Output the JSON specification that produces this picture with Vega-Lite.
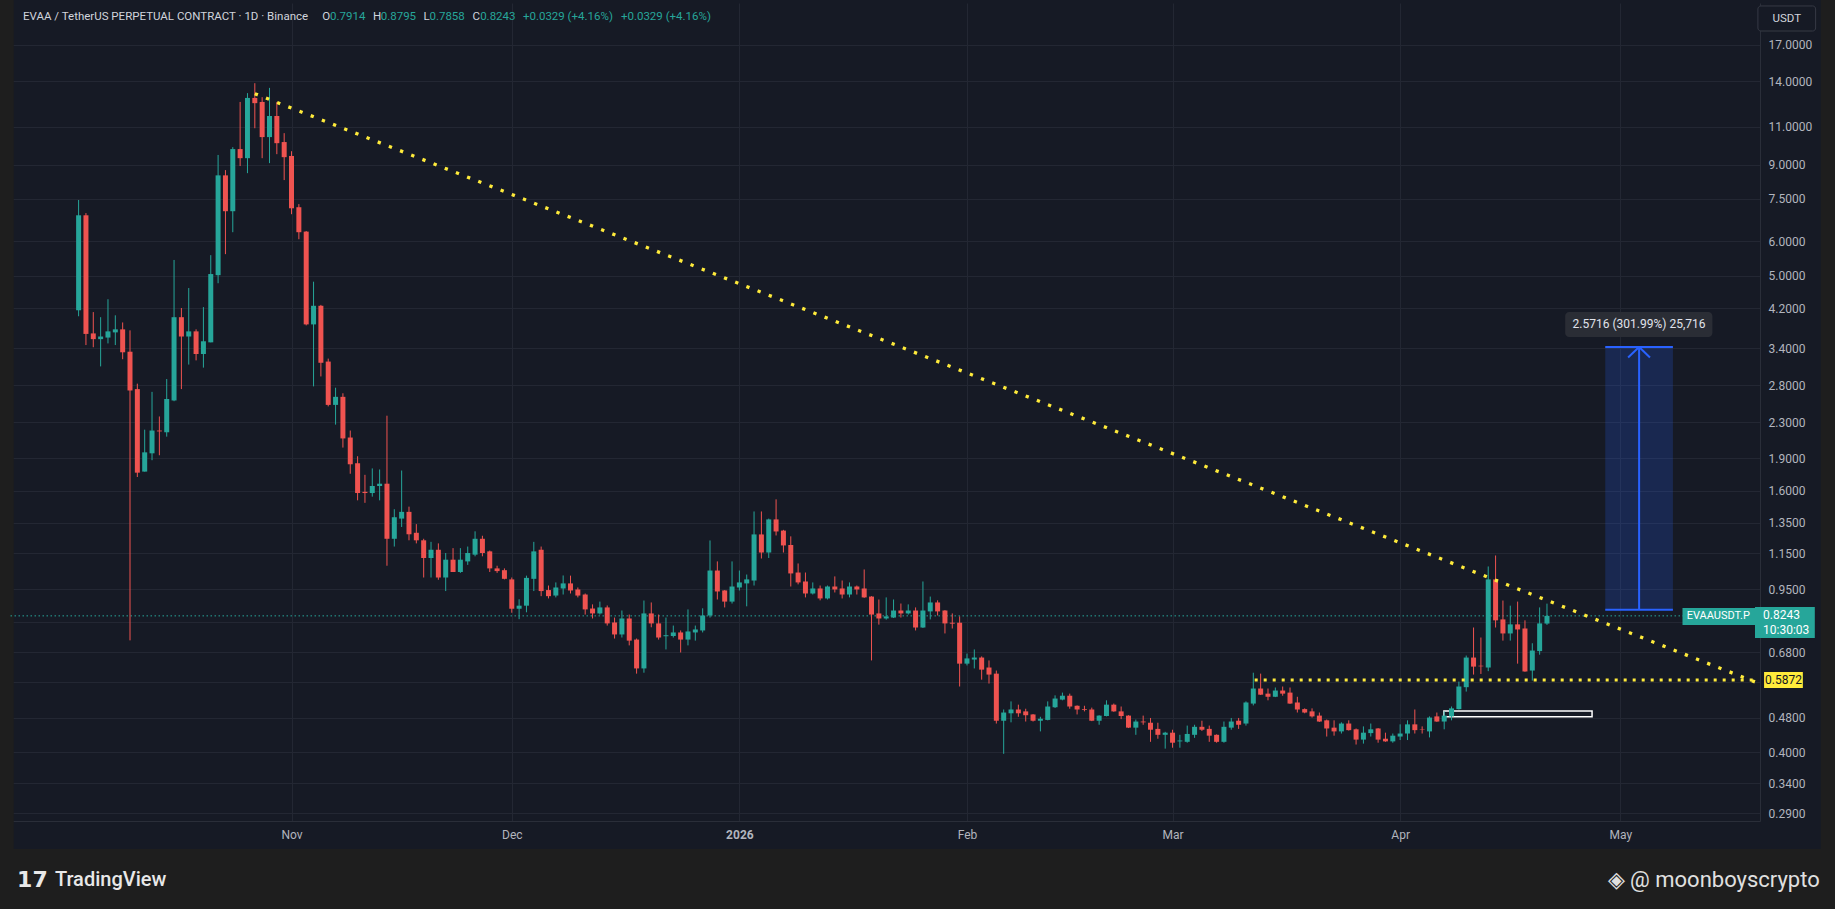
{
  "$schema": "https://vega.github.io/schema/vega-lite/v6.json",
  "width": 1751,
  "height": 818,
  "autosize": {"type": "none"},
  "padding": {"left": 9, "top": 3, "right": 75, "bottom": 88},
  "background": "#161a25",
  "config": {
    "view": {"stroke": null, "fill": "#161a25"},
    "font": "Roboto",
    "axis": {
      "labelColor": "#b2b5be",
      "labelFont": "Roboto",
      "labelFontSize": 12,
      "gridColor": "#232733",
      "gridWidth": 1,
      "domainColor": "#2a2e39",
      "ticks": false,
      "tickSize": 0,
      "title": null
    },
    "text": {"font": "Roboto"}
  },
  "datasets": {
    "candles": [
      {"d": "2025-10-03", "o": 4.16, "h": 7.46, "l": 4.03, "c": 6.88},
      {"d": "2025-10-04", "o": 6.88, "h": 6.96, "l": 3.46, "c": 3.67},
      {"d": "2025-10-05", "o": 3.68, "h": 4.12, "l": 3.42, "c": 3.57},
      {"d": "2025-10-06", "o": 3.57, "h": 4.01, "l": 3.09, "c": 3.62},
      {"d": "2025-10-07", "o": 3.60, "h": 4.41, "l": 3.49, "c": 3.72},
      {"d": "2025-10-08", "o": 3.70, "h": 4.05, "l": 3.46, "c": 3.76},
      {"d": "2025-10-09", "o": 3.76, "h": 3.90, "l": 3.21, "c": 3.33},
      {"d": "2025-10-10", "o": 3.34, "h": 3.74, "l": 0.724, "c": 2.72},
      {"d": "2025-10-11", "o": 2.74, "h": 2.82, "l": 1.72, "c": 1.76},
      {"d": "2025-10-12", "o": 1.77, "h": 2.21, "l": 1.77, "c": 1.96},
      {"d": "2025-10-13", "o": 1.95, "h": 2.70, "l": 1.88, "c": 2.20},
      {"d": "2025-10-14", "o": 2.20, "h": 2.37, "l": 1.93, "c": 2.19},
      {"d": "2025-10-15", "o": 2.18, "h": 2.89, "l": 2.13, "c": 2.60},
      {"d": "2025-10-16", "o": 2.58, "h": 5.43, "l": 2.57, "c": 4.01},
      {"d": "2025-10-17", "o": 4.01, "h": 4.21, "l": 2.74, "c": 3.62},
      {"d": "2025-10-18", "o": 3.62, "h": 4.68, "l": 3.12, "c": 3.72},
      {"d": "2025-10-19", "o": 3.72, "h": 3.76, "l": 3.19, "c": 3.30},
      {"d": "2025-10-20", "o": 3.30, "h": 4.23, "l": 3.07, "c": 3.53},
      {"d": "2025-10-21", "o": 3.51, "h": 5.57, "l": 3.51, "c": 5.04},
      {"d": "2025-10-22", "o": 5.01, "h": 9.47, "l": 4.80, "c": 8.50},
      {"d": "2025-10-23", "o": 8.50, "h": 8.74, "l": 5.60, "c": 7.03},
      {"d": "2025-10-24", "o": 7.03, "h": 9.87, "l": 6.29, "c": 9.77},
      {"d": "2025-10-25", "o": 9.77, "h": 12.54, "l": 8.93, "c": 9.31},
      {"d": "2025-10-26", "o": 9.31, "h": 13.14, "l": 8.60, "c": 12.81},
      {"d": "2025-10-27", "o": 12.81, "h": 13.85, "l": 10.91, "c": 12.46},
      {"d": "2025-10-28", "o": 12.54, "h": 12.86, "l": 9.31, "c": 10.41},
      {"d": "2025-10-29", "o": 10.41, "h": 13.51, "l": 9.07, "c": 11.64},
      {"d": "2025-10-30", "o": 11.64, "h": 12.54, "l": 9.51, "c": 10.08},
      {"d": "2025-10-31", "o": 10.14, "h": 10.63, "l": 8.29, "c": 9.36},
      {"d": "2025-11-01", "o": 9.42, "h": 9.66, "l": 6.92, "c": 7.14},
      {"d": "2025-11-02", "o": 7.18, "h": 7.30, "l": 6.06, "c": 6.29},
      {"d": "2025-11-03", "o": 6.31, "h": 6.33, "l": 3.84, "c": 3.86},
      {"d": "2025-11-04", "o": 3.86, "h": 4.84, "l": 2.78, "c": 4.26},
      {"d": "2025-11-05", "o": 4.26, "h": 4.28, "l": 2.93, "c": 3.15},
      {"d": "2025-11-06", "o": 3.17, "h": 3.22, "l": 2.50, "c": 2.52},
      {"d": "2025-11-07", "o": 2.52, "h": 2.76, "l": 2.27, "c": 2.63},
      {"d": "2025-11-08", "o": 2.63, "h": 2.68, "l": 2.01, "c": 2.11},
      {"d": "2025-11-09", "o": 2.12, "h": 2.20, "l": 1.75, "c": 1.84},
      {"d": "2025-11-10", "o": 1.85, "h": 1.92, "l": 1.52, "c": 1.58},
      {"d": "2025-11-11", "o": 1.59, "h": 1.74, "l": 1.50, "c": 1.58},
      {"d": "2025-11-12", "o": 1.58, "h": 1.80, "l": 1.55, "c": 1.64},
      {"d": "2025-11-13", "o": 1.64, "h": 1.79, "l": 1.52, "c": 1.66},
      {"d": "2025-11-14", "o": 1.66, "h": 2.38, "l": 1.075, "c": 1.24},
      {"d": "2025-11-15", "o": 1.24, "h": 1.45, "l": 1.19, "c": 1.39},
      {"d": "2025-11-16", "o": 1.38, "h": 1.78, "l": 1.32, "c": 1.43},
      {"d": "2025-11-17", "o": 1.43, "h": 1.47, "l": 1.23, "c": 1.27},
      {"d": "2025-11-18", "o": 1.28, "h": 1.34, "l": 1.21, "c": 1.23},
      {"d": "2025-11-19", "o": 1.23, "h": 1.24, "l": 1.01, "c": 1.12},
      {"d": "2025-11-20", "o": 1.12, "h": 1.22, "l": 1.01, "c": 1.17},
      {"d": "2025-11-21", "o": 1.17, "h": 1.21, "l": 0.998, "c": 1.01},
      {"d": "2025-11-22", "o": 1.01, "h": 1.15, "l": 0.94, "c": 1.11},
      {"d": "2025-11-23", "o": 1.11, "h": 1.18, "l": 1.04, "c": 1.04},
      {"d": "2025-11-24", "o": 1.04, "h": 1.18, "l": 1.035, "c": 1.11},
      {"d": "2025-11-25", "o": 1.10, "h": 1.19, "l": 1.08, "c": 1.15},
      {"d": "2025-11-26", "o": 1.14, "h": 1.29, "l": 1.13, "c": 1.24},
      {"d": "2025-11-27", "o": 1.24, "h": 1.26, "l": 1.13, "c": 1.15},
      {"d": "2025-11-28", "o": 1.16, "h": 1.165, "l": 1.04, "c": 1.06},
      {"d": "2025-11-29", "o": 1.06, "h": 1.075, "l": 1.035, "c": 1.045},
      {"d": "2025-11-30", "o": 1.05, "h": 1.06, "l": 1.0, "c": 1.003},
      {"d": "2025-12-01", "o": 1.0, "h": 1.01, "l": 0.838, "c": 0.856},
      {"d": "2025-12-02", "o": 0.856, "h": 0.90, "l": 0.81, "c": 0.87},
      {"d": "2025-12-03", "o": 0.87, "h": 1.02, "l": 0.84, "c": 1.008},
      {"d": "2025-12-04", "o": 1.003, "h": 1.22, "l": 0.94, "c": 1.16},
      {"d": "2025-12-05", "o": 1.17, "h": 1.19, "l": 0.915, "c": 0.94},
      {"d": "2025-12-06", "o": 0.945, "h": 0.968, "l": 0.904, "c": 0.915},
      {"d": "2025-12-07", "o": 0.918, "h": 0.984, "l": 0.909, "c": 0.958},
      {"d": "2025-12-08", "o": 0.953, "h": 1.021, "l": 0.923, "c": 0.979},
      {"d": "2025-12-09", "o": 0.979, "h": 1.02, "l": 0.928, "c": 0.943},
      {"d": "2025-12-10", "o": 0.948, "h": 0.958, "l": 0.909, "c": 0.918},
      {"d": "2025-12-11", "o": 0.923, "h": 0.928, "l": 0.830, "c": 0.853},
      {"d": "2025-12-12", "o": 0.857, "h": 0.876, "l": 0.813, "c": 0.835},
      {"d": "2025-12-13", "o": 0.835, "h": 0.889, "l": 0.830, "c": 0.862},
      {"d": "2025-12-14", "o": 0.862, "h": 0.871, "l": 0.783, "c": 0.792},
      {"d": "2025-12-15", "o": 0.796, "h": 0.817, "l": 0.731, "c": 0.747},
      {"d": "2025-12-16", "o": 0.747, "h": 0.848, "l": 0.735, "c": 0.813},
      {"d": "2025-12-17", "o": 0.813, "h": 0.830, "l": 0.705, "c": 0.723},
      {"d": "2025-12-18", "o": 0.727, "h": 0.731, "l": 0.607, "c": 0.624},
      {"d": "2025-12-19", "o": 0.624, "h": 0.894, "l": 0.610, "c": 0.835},
      {"d": "2025-12-20", "o": 0.835, "h": 0.885, "l": 0.776, "c": 0.792},
      {"d": "2025-12-21", "o": 0.792, "h": 0.830, "l": 0.727, "c": 0.735},
      {"d": "2025-12-22", "o": 0.740, "h": 0.817, "l": 0.690, "c": 0.744},
      {"d": "2025-12-23", "o": 0.741, "h": 0.783, "l": 0.735, "c": 0.755},
      {"d": "2025-12-24", "o": 0.755, "h": 0.763, "l": 0.679, "c": 0.727},
      {"d": "2025-12-25", "o": 0.727, "h": 0.853, "l": 0.705, "c": 0.759},
      {"d": "2025-12-26", "o": 0.755, "h": 0.783, "l": 0.723, "c": 0.767},
      {"d": "2025-12-27", "o": 0.763, "h": 0.858, "l": 0.755, "c": 0.826},
      {"d": "2025-12-28", "o": 0.826, "h": 1.229, "l": 0.817, "c": 1.048},
      {"d": "2025-12-29", "o": 1.048, "h": 1.10, "l": 0.899, "c": 0.938},
      {"d": "2025-12-30", "o": 0.943, "h": 0.945, "l": 0.862, "c": 0.889},
      {"d": "2025-12-31", "o": 0.889, "h": 1.10, "l": 0.880, "c": 0.963},
      {"d": "2026-01-01", "o": 0.958, "h": 1.048, "l": 0.943, "c": 0.984},
      {"d": "2026-01-02", "o": 0.979, "h": 1.026, "l": 0.867, "c": 1.0},
      {"d": "2026-01-03", "o": 0.994, "h": 1.433, "l": 0.968, "c": 1.269},
      {"d": "2026-01-04", "o": 1.269, "h": 1.433, "l": 1.117, "c": 1.153},
      {"d": "2026-01-05", "o": 1.153, "h": 1.38, "l": 1.12, "c": 1.374},
      {"d": "2026-01-06", "o": 1.374, "h": 1.528, "l": 1.262, "c": 1.289},
      {"d": "2026-01-07", "o": 1.295, "h": 1.30, "l": 1.153, "c": 1.197},
      {"d": "2026-01-08", "o": 1.20, "h": 1.256, "l": 0.963, "c": 1.032},
      {"d": "2026-01-09", "o": 1.037, "h": 1.088, "l": 0.974, "c": 0.984},
      {"d": "2026-01-10", "o": 0.989, "h": 1.037, "l": 0.909, "c": 0.928},
      {"d": "2026-01-11", "o": 0.928, "h": 0.984, "l": 0.923, "c": 0.953},
      {"d": "2026-01-12", "o": 0.953, "h": 0.968, "l": 0.895, "c": 0.904},
      {"d": "2026-01-13", "o": 0.904, "h": 0.968, "l": 0.899, "c": 0.963},
      {"d": "2026-01-14", "o": 0.963, "h": 1.016, "l": 0.933, "c": 0.948},
      {"d": "2026-01-15", "o": 0.953, "h": 0.994, "l": 0.904, "c": 0.923},
      {"d": "2026-01-16", "o": 0.923, "h": 0.984, "l": 0.909, "c": 0.963},
      {"d": "2026-01-17", "o": 0.963, "h": 0.968, "l": 0.923, "c": 0.948},
      {"d": "2026-01-18", "o": 0.953, "h": 1.054, "l": 0.907, "c": 0.909},
      {"d": "2026-01-19", "o": 0.913, "h": 0.915, "l": 0.651, "c": 0.830},
      {"d": "2026-01-20", "o": 0.835, "h": 0.899, "l": 0.787, "c": 0.813},
      {"d": "2026-01-21", "o": 0.813, "h": 0.909, "l": 0.808, "c": 0.822},
      {"d": "2026-01-22", "o": 0.817, "h": 0.899, "l": 0.815, "c": 0.848},
      {"d": "2026-01-23", "o": 0.848, "h": 0.880, "l": 0.817, "c": 0.835},
      {"d": "2026-01-24", "o": 0.835, "h": 0.876, "l": 0.830, "c": 0.848},
      {"d": "2026-01-25", "o": 0.848, "h": 0.862, "l": 0.763, "c": 0.775},
      {"d": "2026-01-26", "o": 0.775, "h": 0.989, "l": 0.773, "c": 0.848},
      {"d": "2026-01-27", "o": 0.844, "h": 0.913, "l": 0.809, "c": 0.885},
      {"d": "2026-01-28", "o": 0.885, "h": 0.895, "l": 0.826, "c": 0.844},
      {"d": "2026-01-29", "o": 0.848, "h": 0.850, "l": 0.751, "c": 0.792},
      {"d": "2026-01-30", "o": 0.795, "h": 0.835, "l": 0.771, "c": 0.791},
      {"d": "2026-01-31", "o": 0.795, "h": 0.822, "l": 0.567, "c": 0.640},
      {"d": "2026-02-01", "o": 0.640, "h": 0.675, "l": 0.634, "c": 0.658},
      {"d": "2026-02-02", "o": 0.654, "h": 0.690, "l": 0.624, "c": 0.661},
      {"d": "2026-02-03", "o": 0.661, "h": 0.665, "l": 0.588, "c": 0.620},
      {"d": "2026-02-04", "o": 0.627, "h": 0.651, "l": 0.576, "c": 0.604},
      {"d": "2026-02-05", "o": 0.607, "h": 0.617, "l": 0.466, "c": 0.473},
      {"d": "2026-02-06", "o": 0.473, "h": 0.502, "l": 0.397, "c": 0.494},
      {"d": "2026-02-07", "o": 0.492, "h": 0.524, "l": 0.469, "c": 0.502},
      {"d": "2026-02-08", "o": 0.502, "h": 0.515, "l": 0.483, "c": 0.492},
      {"d": "2026-02-09", "o": 0.497, "h": 0.504, "l": 0.471, "c": 0.487},
      {"d": "2026-02-10", "o": 0.489, "h": 0.490, "l": 0.471, "c": 0.473},
      {"d": "2026-02-11", "o": 0.473, "h": 0.483, "l": 0.447, "c": 0.478},
      {"d": "2026-02-12", "o": 0.475, "h": 0.524, "l": 0.474, "c": 0.510},
      {"d": "2026-02-13", "o": 0.508, "h": 0.541, "l": 0.506, "c": 0.532},
      {"d": "2026-02-14", "o": 0.529, "h": 0.549, "l": 0.527, "c": 0.540},
      {"d": "2026-02-15", "o": 0.540, "h": 0.546, "l": 0.504, "c": 0.510},
      {"d": "2026-02-16", "o": 0.512, "h": 0.513, "l": 0.489, "c": 0.502},
      {"d": "2026-02-17", "o": 0.503, "h": 0.512, "l": 0.497, "c": 0.501},
      {"d": "2026-02-18", "o": 0.502, "h": 0.507, "l": 0.472, "c": 0.473},
      {"d": "2026-02-19", "o": 0.473, "h": 0.487, "l": 0.463, "c": 0.486},
      {"d": "2026-02-20", "o": 0.485, "h": 0.527, "l": 0.484, "c": 0.515},
      {"d": "2026-02-21", "o": 0.515, "h": 0.518, "l": 0.496, "c": 0.497},
      {"d": "2026-02-22", "o": 0.497, "h": 0.510, "l": 0.477, "c": 0.485},
      {"d": "2026-02-23", "o": 0.486, "h": 0.487, "l": 0.455, "c": 0.456},
      {"d": "2026-02-24", "o": 0.456, "h": 0.476, "l": 0.439, "c": 0.471},
      {"d": "2026-02-25", "o": 0.471, "h": 0.486, "l": 0.463, "c": 0.469},
      {"d": "2026-02-26", "o": 0.468, "h": 0.480, "l": 0.423, "c": 0.451},
      {"d": "2026-02-27", "o": 0.453, "h": 0.468, "l": 0.430, "c": 0.439},
      {"d": "2026-02-28", "o": 0.439, "h": 0.446, "l": 0.408, "c": 0.444},
      {"d": "2026-03-01", "o": 0.444, "h": 0.451, "l": 0.410, "c": 0.421},
      {"d": "2026-03-02", "o": 0.424, "h": 0.439, "l": 0.410, "c": 0.426},
      {"d": "2026-03-03", "o": 0.423, "h": 0.461, "l": 0.421, "c": 0.441},
      {"d": "2026-03-04", "o": 0.439, "h": 0.463, "l": 0.432, "c": 0.458},
      {"d": "2026-03-05", "o": 0.458, "h": 0.473, "l": 0.448, "c": 0.451},
      {"d": "2026-03-06", "o": 0.453, "h": 0.461, "l": 0.423, "c": 0.437},
      {"d": "2026-03-07", "o": 0.439, "h": 0.440, "l": 0.421, "c": 0.423},
      {"d": "2026-03-08", "o": 0.423, "h": 0.471, "l": 0.421, "c": 0.458},
      {"d": "2026-03-09", "o": 0.456, "h": 0.480, "l": 0.451, "c": 0.471},
      {"d": "2026-03-10", "o": 0.473, "h": 0.480, "l": 0.453, "c": 0.463},
      {"d": "2026-03-11", "o": 0.466, "h": 0.524, "l": 0.461, "c": 0.521},
      {"d": "2026-03-12", "o": 0.518, "h": 0.610, "l": 0.513, "c": 0.561},
      {"d": "2026-03-13", "o": 0.561, "h": 0.607, "l": 0.542, "c": 0.543},
      {"d": "2026-03-14", "o": 0.546, "h": 0.561, "l": 0.527, "c": 0.537},
      {"d": "2026-03-15", "o": 0.537, "h": 0.564, "l": 0.536, "c": 0.555},
      {"d": "2026-03-16", "o": 0.555, "h": 0.567, "l": 0.540, "c": 0.546},
      {"d": "2026-03-17", "o": 0.549, "h": 0.564, "l": 0.517, "c": 0.518},
      {"d": "2026-03-18", "o": 0.521, "h": 0.537, "l": 0.494, "c": 0.502},
      {"d": "2026-03-19", "o": 0.503, "h": 0.505, "l": 0.492, "c": 0.494},
      {"d": "2026-03-20", "o": 0.497, "h": 0.505, "l": 0.481, "c": 0.484},
      {"d": "2026-03-21", "o": 0.486, "h": 0.494, "l": 0.470, "c": 0.471},
      {"d": "2026-03-22", "o": 0.474, "h": 0.476, "l": 0.435, "c": 0.454},
      {"d": "2026-03-23", "o": 0.456, "h": 0.474, "l": 0.437, "c": 0.447},
      {"d": "2026-03-24", "o": 0.447, "h": 0.469, "l": 0.442, "c": 0.466},
      {"d": "2026-03-25", "o": 0.466, "h": 0.474, "l": 0.449, "c": 0.450},
      {"d": "2026-03-26", "o": 0.452, "h": 0.454, "l": 0.417, "c": 0.428},
      {"d": "2026-03-27", "o": 0.428, "h": 0.459, "l": 0.419, "c": 0.444},
      {"d": "2026-03-28", "o": 0.443, "h": 0.466, "l": 0.435, "c": 0.452},
      {"d": "2026-03-29", "o": 0.454, "h": 0.455, "l": 0.421, "c": 0.428},
      {"d": "2026-03-30", "o": 0.430, "h": 0.444, "l": 0.423, "c": 0.424},
      {"d": "2026-03-31", "o": 0.424, "h": 0.442, "l": 0.421, "c": 0.437},
      {"d": "2026-04-01", "o": 0.435, "h": 0.464, "l": 0.427, "c": 0.442},
      {"d": "2026-04-02", "o": 0.442, "h": 0.474, "l": 0.427, "c": 0.464},
      {"d": "2026-04-03", "o": 0.464, "h": 0.502, "l": 0.442, "c": 0.450},
      {"d": "2026-04-04", "o": 0.452, "h": 0.459, "l": 0.442, "c": 0.451},
      {"d": "2026-04-05", "o": 0.447, "h": 0.484, "l": 0.433, "c": 0.481},
      {"d": "2026-04-06", "o": 0.484, "h": 0.494, "l": 0.470, "c": 0.471},
      {"d": "2026-04-07", "o": 0.471, "h": 0.497, "l": 0.452, "c": 0.486},
      {"d": "2026-04-08", "o": 0.484, "h": 0.510, "l": 0.474, "c": 0.505},
      {"d": "2026-04-09", "o": 0.503, "h": 0.582, "l": 0.502, "c": 0.567},
      {"d": "2026-04-10", "o": 0.565, "h": 0.668, "l": 0.552, "c": 0.661},
      {"d": "2026-04-11", "o": 0.661, "h": 0.775, "l": 0.604, "c": 0.630},
      {"d": "2026-04-12", "o": 0.633, "h": 0.735, "l": 0.606, "c": 0.631},
      {"d": "2026-04-13", "o": 0.627, "h": 1.071, "l": 0.615, "c": 1.0},
      {"d": "2026-04-14", "o": 1.0, "h": 1.135, "l": 0.775, "c": 0.805},
      {"d": "2026-04-15", "o": 0.809, "h": 0.894, "l": 0.723, "c": 0.751},
      {"d": "2026-04-16", "o": 0.751, "h": 0.870, "l": 0.723, "c": 0.788},
      {"d": "2026-04-17", "o": 0.788, "h": 0.889, "l": 0.640, "c": 0.767},
      {"d": "2026-04-18", "o": 0.771, "h": 0.805, "l": 0.613, "c": 0.614},
      {"d": "2026-04-19", "o": 0.617, "h": 0.713, "l": 0.585, "c": 0.686},
      {"d": "2026-04-20", "o": 0.684, "h": 0.862, "l": 0.671, "c": 0.792},
      {"d": "2026-04-21", "o": 0.7914, "h": 0.8795, "l": 0.7858, "c": 0.8243}
    ]
  },
  "layer": [
    {
      "data": {"values": [{}]},
      "mark": {"type": "rect", "color": "#1e1e1e"},
      "encoding": {
        "x": {"datum": {"year": 2025, "month": 9, "date": 1, "utc": true}, "type": "temporal"},
        "x2": {"datum": {"year": 2026, "month": 6, "date": 30, "utc": true}},
        "y": {"datum": 0.2398, "type": "quantitative"},
        "y2": {"datum": 0.1}
      }
    },
    {
      "data": {"values": [{}]},
      "mark": {"type": "rect", "color": "#1e1e1e"},
      "encoding": {
        "x": {"datum": {"year": 2025, "month": 9, "date": 1, "utc": true}, "type": "temporal"},
        "x2": {"datum": {"year": 2025, "month": 9, "date": 24, "hours": 4, "utc": true}},
        "y": {"datum": 40, "type": "quantitative"},
        "y2": {"datum": 0.2398}
      }
    },
    {
      "data": {"values": [{}]},
      "mark": {"type": "rect", "color": "#1e1e1e"},
      "encoding": {
        "x": {"datum": {"year": 2026, "month": 5, "date": 28, "hours": 7, "utc": true}, "type": "temporal"},
        "x2": {"datum": {"year": 2026, "month": 6, "date": 30, "utc": true}},
        "y": {"datum": 40, "type": "quantitative"},
        "y2": {"datum": 0.2398}
      }
    },
    {
      "data": {"values": [{}]},
      "mark": {"type": "rect", "color": "#2962ff", "opacity": 0.2},
      "encoding": {
        "x": {"datum": {"year": 2026, "month": 4, "date": 28, "hours": 22, "minutes": 30, "utc": true}, "type": "temporal"},
        "x2": {"datum": {"year": 2026, "month": 5, "date": 8, "hours": 3, "minutes": 40, "utc": true}},
        "y": {"datum": 0.8516, "type": "quantitative"},
        "y2": {"datum": 3.4232}
      }
    },
    {
      "data": {"values": [{}]},
      "mark": {"type": "rule", "color": "#26a69a", "strokeWidth": 1, "strokeDash": [1.5, 2.5]},
      "encoding": {
        "y": {"datum": 0.8243, "type": "quantitative"}
      }
    },
    {
      "data": {"values": [{}]},
      "mark": {"type": "rect", "fillOpacity": 0, "stroke": "#ffffff", "strokeWidth": 1.5},
      "encoding": {
        "x": {"datum": {"year": 2026, "month": 4, "date": 6, "hours": 23, "utc": true}, "type": "temporal"},
        "x2": {"datum": {"year": 2026, "month": 4, "date": 27, "hours": 3, "minutes": 20, "utc": true}},
        "y": {"datum": 0.498, "type": "quantitative"},
        "y2": {"datum": 0.4833}
      }
    },
    {
      "data": {"name": "candles"},
      "mark": {"type": "rule", "strokeWidth": 1},
      "encoding": {
        "x": {
          "field": "d",
          "type": "temporal",
          "scale": {
            "type": "utc",
            "nice": false,
            "domain": [
              {"year": 2025, "month": 9, "date": 24, "hours": 4, "minutes": 48, "utc": true},
              {"year": 2026, "month": 5, "date": 19, "hours": 8, "utc": true}
            ]
          },
          "axis": {
            "orient": "bottom",
            "grid": true,
            "labelPadding": 8,
            "values": [
              {"year": 2025, "month": 11, "date": 1, "utc": true},
              {"year": 2025, "month": 12, "date": 1, "utc": true},
              {"year": 2026, "month": 1, "date": 1, "utc": true},
              {"year": 2026, "month": 2, "date": 1, "utc": true},
              {"year": 2026, "month": 3, "date": 1, "utc": true},
              {"year": 2026, "month": 4, "date": 1, "utc": true},
              {"year": 2026, "month": 5, "date": 1, "utc": true}
            ],
            "labelExpr": "utcmonth(datum.value) == 0 ? utcFormat(datum.value, '%Y') : utcFormat(datum.value, '%b')",
            "labelFontWeight": {"condition": {"test": "utcmonth(datum.value) == 0", "value": "bold"}, "value": "normal"}
          }
        },
        "y": {
          "field": "l",
          "type": "quantitative",
          "scale": {"type": "log", "nice": false, "zero": false, "domain": [0.2781, 21.18]},
          "axis": {
            "orient": "right",
            "grid": true,
            "labelPadding": 8,
            "values": [17, 14, 11, 9, 7.5, 6, 5, 4.2, 3.4, 2.8, 2.3, 1.9, 1.6, 1.35, 1.15, 0.95, 0.8, 0.68, 0.58, 0.48, 0.4, 0.34, 0.29],
            "labelExpr": "datum.value == 0.8 || datum.value == 0.58 ? '' : format(datum.value, '.4f')"
          }
        },
        "y2": {"field": "h"},
        "color": {"condition": {"test": "datum.c >= datum.o", "value": "#26a69a"}, "value": "#ef5350"}
      }
    },
    {
      "data": {"name": "candles"},
      "mark": {"type": "bar", "width": 5},
      "encoding": {
        "x": {"field": "d", "type": "temporal"},
        "y": {"field": "o", "type": "quantitative"},
        "y2": {"field": "c"},
        "color": {"condition": {"test": "datum.c >= datum.o", "value": "#26a69a"}, "value": "#ef5350"}
      }
    },
    {
      "data": {"values": [{}]},
      "mark": {"type": "rule", "color": "#ffeb3b", "strokeWidth": 3.3, "strokeDash": [3.3, 8.7]},
      "encoding": {
        "x": {"datum": {"year": 2025, "month": 10, "date": 27, "utc": true}, "type": "temporal"},
        "x2": {"datum": {"year": 2026, "month": 5, "date": 19, "hours": 8, "utc": true}},
        "y": {"datum": 13.1, "type": "quantitative"},
        "y2": {"datum": 0.581}
      }
    },
    {
      "data": {"values": [{}]},
      "mark": {"type": "rule", "color": "#ffeb3b", "strokeWidth": 3, "strokeDash": [3, 6]},
      "encoding": {
        "x": {"datum": {"year": 2026, "month": 3, "date": 12, "hours": 4, "minutes": 30, "utc": true}, "type": "temporal"},
        "x2": {"datum": {"year": 2026, "month": 5, "date": 19, "hours": 8, "utc": true}},
        "y": {"datum": 0.5872, "type": "quantitative"}
      }
    },
    {
      "data": {"values": [{"p": 0.8516}, {"p": 3.4232}]},
      "mark": {"type": "rule", "color": "#2962ff", "strokeWidth": 2},
      "encoding": {
        "x": {"datum": {"year": 2026, "month": 4, "date": 28, "hours": 22, "minutes": 30, "utc": true}, "type": "temporal"},
        "x2": {"datum": {"year": 2026, "month": 5, "date": 8, "hours": 3, "minutes": 40, "utc": true}},
        "y": {"field": "p", "type": "quantitative"}
      }
    },
    {
      "data": {"values": [{}]},
      "mark": {"type": "rule", "color": "#2962ff", "strokeWidth": 2},
      "encoding": {
        "x": {"datum": {"year": 2026, "month": 5, "date": 3, "hours": 13, "minutes": 10, "utc": true}, "type": "temporal"},
        "y": {"datum": 0.8516, "type": "quantitative"},
        "y2": {"datum": 3.4232}
      }
    },
    {
      "data": {"values": [{}]},
      "mark": {"type": "rule", "color": "#2962ff", "strokeWidth": 2},
      "encoding": {
        "x": {"datum": {"year": 2026, "month": 5, "date": 2, "hours": 1, "minutes": 10, "utc": true}, "type": "temporal"},
        "x2": {"datum": {"year": 2026, "month": 5, "date": 3, "hours": 13, "minutes": 10, "utc": true}},
        "y": {"datum": 3.2395, "type": "quantitative"},
        "y2": {"datum": 3.4232}
      }
    },
    {
      "data": {"values": [{}]},
      "mark": {"type": "rule", "color": "#2962ff", "strokeWidth": 2},
      "encoding": {
        "x": {"datum": {"year": 2026, "month": 5, "date": 3, "hours": 13, "minutes": 10, "utc": true}, "type": "temporal"},
        "x2": {"datum": {"year": 2026, "month": 5, "date": 5, "hours": 0, "minutes": 45, "utc": true}},
        "y": {"datum": 3.4232, "type": "quantitative"},
        "y2": {"datum": 3.2395}
      }
    },
    {
      "data": {"values": [{}]},
      "mark": {"type": "rect", "color": "#2a2d35", "cornerRadius": 4},
      "encoding": {
        "x": {"datum": {"year": 2026, "month": 4, "date": 23, "hours": 11, "minutes": 30, "utc": true}, "type": "temporal"},
        "x2": {"datum": {"year": 2026, "month": 5, "date": 13, "hours": 12, "minutes": 45, "utc": true}},
        "y": {"datum": 4.122, "type": "quantitative"},
        "y2": {"datum": 3.611}
      }
    },
    {
      "data": {"values": [{}]},
      "mark": {"type": "text", "color": "#e0e3eb", "fontSize": 12, "align": "center", "baseline": "middle"},
      "encoding": {
        "x": {"datum": {"year": 2026, "month": 5, "date": 3, "hours": 13, "utc": true}, "type": "temporal"},
        "y": {"datum": 3.858, "type": "quantitative"},
        "text": {"value": "2.5716 (301.99%) 25,716"}
      }
    },
    {
      "data": {"values": [{}]},
      "mark": {"type": "rect", "color": "#26a69a"},
      "encoding": {
        "x": {"datum": {"year": 2026, "month": 5, "date": 9, "hours": 11, "utc": true}, "type": "temporal"},
        "x2": {"datum": {"year": 2026, "month": 5, "date": 19, "hours": 8, "utc": true}},
        "y": {"datum": 0.8595, "type": "quantitative"},
        "y2": {"datum": 0.7855}
      }
    },
    {
      "data": {"values": [{}]},
      "mark": {"type": "text", "color": "#ffffff", "fontSize": 11, "align": "center", "baseline": "middle"},
      "encoding": {
        "x": {"datum": {"year": 2026, "month": 5, "date": 14, "hours": 8, "utc": true}, "type": "temporal"},
        "y": {"datum": 0.8243, "type": "quantitative"},
        "text": {"value": "EVAAUSDT.P"}
      }
    },
    {
      "data": {"values": [{}]},
      "mark": {"type": "rect", "color": "#26a69a"},
      "encoding": {
        "x": {"datum": {"year": 2026, "month": 5, "date": 19, "hours": 8, "utc": true}, "type": "temporal"},
        "x2": {"datum": {"year": 2026, "month": 5, "date": 27, "hours": 11, "minutes": 30, "utc": true}},
        "y": {"datum": 0.8641, "type": "quantitative"},
        "y2": {"datum": 0.7332}
      }
    },
    {
      "data": {"values": [{"t": "0.8243", "p": 0.828}, {"t": "10:30:03", "p": 0.765}]},
      "mark": {"type": "text", "color": "#ffffff", "fontSize": 12, "align": "left", "baseline": "middle"},
      "encoding": {
        "x": {"datum": {"year": 2026, "month": 5, "date": 20, "hours": 10, "minutes": 20, "utc": true}, "type": "temporal"},
        "y": {"field": "p", "type": "quantitative"},
        "text": {"field": "t"}
      }
    },
    {
      "data": {"values": [{}]},
      "mark": {"type": "rect", "color": "#ffeb3b"},
      "encoding": {
        "x": {"datum": {"year": 2026, "month": 5, "date": 20, "hours": 13, "minutes": 40, "utc": true}, "type": "temporal"},
        "x2": {"datum": {"year": 2026, "month": 5, "date": 25, "hours": 20, "minutes": 25, "utc": true}},
        "y": {"datum": 0.6124, "type": "quantitative"},
        "y2": {"datum": 0.5626}
      }
    },
    {
      "data": {"values": [{}]},
      "mark": {"type": "text", "color": "#131722", "fontSize": 12, "align": "center", "baseline": "middle"},
      "encoding": {
        "x": {"datum": {"year": 2026, "month": 5, "date": 23, "hours": 5, "utc": true}, "type": "temporal"},
        "y": {"datum": 0.587, "type": "quantitative"},
        "text": {"value": "0.5872"}
      }
    },
    {
      "data": {"values": [{}]},
      "mark": {"type": "rect", "color": "#161a25", "stroke": "#363a45", "strokeWidth": 1, "cornerRadius": 3},
      "encoding": {
        "x": {"datum": {"year": 2026, "month": 5, "date": 19, "hours": 17, "minutes": 30, "utc": true}, "type": "temporal"},
        "x2": {"datum": {"year": 2026, "month": 5, "date": 27, "hours": 14, "minutes": 10, "utc": true}},
        "y": {"datum": 20.85, "type": "quantitative"},
        "y2": {"datum": 18.26}
      }
    },
    {
      "data": {"values": [{}]},
      "mark": {"type": "text", "color": "#d1d4dc", "fontSize": 11.5, "align": "center", "baseline": "middle"},
      "encoding": {
        "x": {"datum": {"year": 2026, "month": 5, "date": 23, "hours": 15, "minutes": 50, "utc": true}, "type": "temporal"},
        "y": {"datum": 19.46, "type": "quantitative"},
        "text": {"value": "USDT"}
      }
    },
    {
      "data": {"values": [{}]},
      "mark": {"type": "text", "color": "#d1d4dc", "fontSize": 11.5, "align": "left", "baseline": "middle"},
      "encoding": {
        "x": {"datum": {"year": 2025, "month": 9, "date": 25, "hours": 10, "minutes": 25, "utc": true}, "type": "temporal"},
        "y": {"datum": 19.67, "type": "quantitative"},
        "text": {"value": "EVAA / TetherUS PERPETUAL CONTRACT · 1D · Binance"}
      }
    },
    {
      "data": {"values": [
        {"t": "O", "at": "2025-11-05T04:45:00Z"},
        {"t": "H", "at": "2025-11-12T02:31:00Z"},
        {"t": "L", "at": "2025-11-18T23:18:00Z"},
        {"t": "C", "at": "2025-11-25T15:33:00Z"}
      ]},
      "mark": {"type": "text", "color": "#d1d4dc", "fontSize": 11.5, "align": "left", "baseline": "middle"},
      "encoding": {
        "x": {"field": "at", "type": "temporal"},
        "y": {"datum": 19.67, "type": "quantitative"},
        "text": {"field": "t"}
      }
    },
    {
      "data": {"values": [
        {"t": "0.7914", "at": "2025-11-06T05:47:00Z"},
        {"t": "0.8795", "at": "2025-11-13T03:33:00Z"},
        {"t": "0.7858", "at": "2025-11-19T18:49:00Z"},
        {"t": "0.8243", "at": "2025-11-26T16:35:00Z"},
        {"t": "+0.0329 (+4.16%)", "at": "2025-12-02T12:20:00Z"},
        {"t": "+0.0329 (+4.16%)", "at": "2025-12-15T20:48:00Z"}
      ]},
      "mark": {"type": "text", "color": "#26a69a", "fontSize": 11.5, "align": "left", "baseline": "middle"},
      "encoding": {
        "x": {"field": "at", "type": "temporal"},
        "y": {"datum": 19.67, "type": "quantitative"},
        "text": {"field": "t"}
      }
    },
    {
      "data": {"values": [{}]},
      "mark": {"type": "text", "color": "#e8e8e8", "fontSize": 22, "fontWeight": 900, "align": "left", "baseline": "middle", "font": "DejaVu Sans"},
      "encoding": {
        "x": {"datum": {"year": 2025, "month": 9, "date": 24, "hours": 15, "utc": true}, "type": "temporal"},
        "y": {"datum": 0.2035, "type": "quantitative"},
        "text": {"value": "17"}
      }
    },
    {
      "data": {"values": [{}]},
      "mark": {"type": "text", "color": "#e8e8e8", "fontSize": 20, "fontWeight": 500, "align": "left", "baseline": "middle"},
      "encoding": {
        "x": {"datum": {"year": 2025, "month": 9, "date": 29, "hours": 18, "minutes": 30, "utc": true}, "type": "temporal"},
        "y": {"datum": 0.2035, "type": "quantitative"},
        "text": {"value": "TradingView"}
      }
    },
    {
      "data": {"values": [{}]},
      "mark": {"type": "text", "color": "#e0e0e0", "fontSize": 22, "align": "right", "baseline": "middle"},
      "encoding": {
        "x": {"datum": {"year": 2026, "month": 5, "date": 28, "hours": 3, "minutes": 40, "utc": true}, "type": "temporal"},
        "y": {"datum": 0.2035, "type": "quantitative"},
        "text": {"value": "◈ @ moonboyscrypto"}
      }
    }
  ]
}
